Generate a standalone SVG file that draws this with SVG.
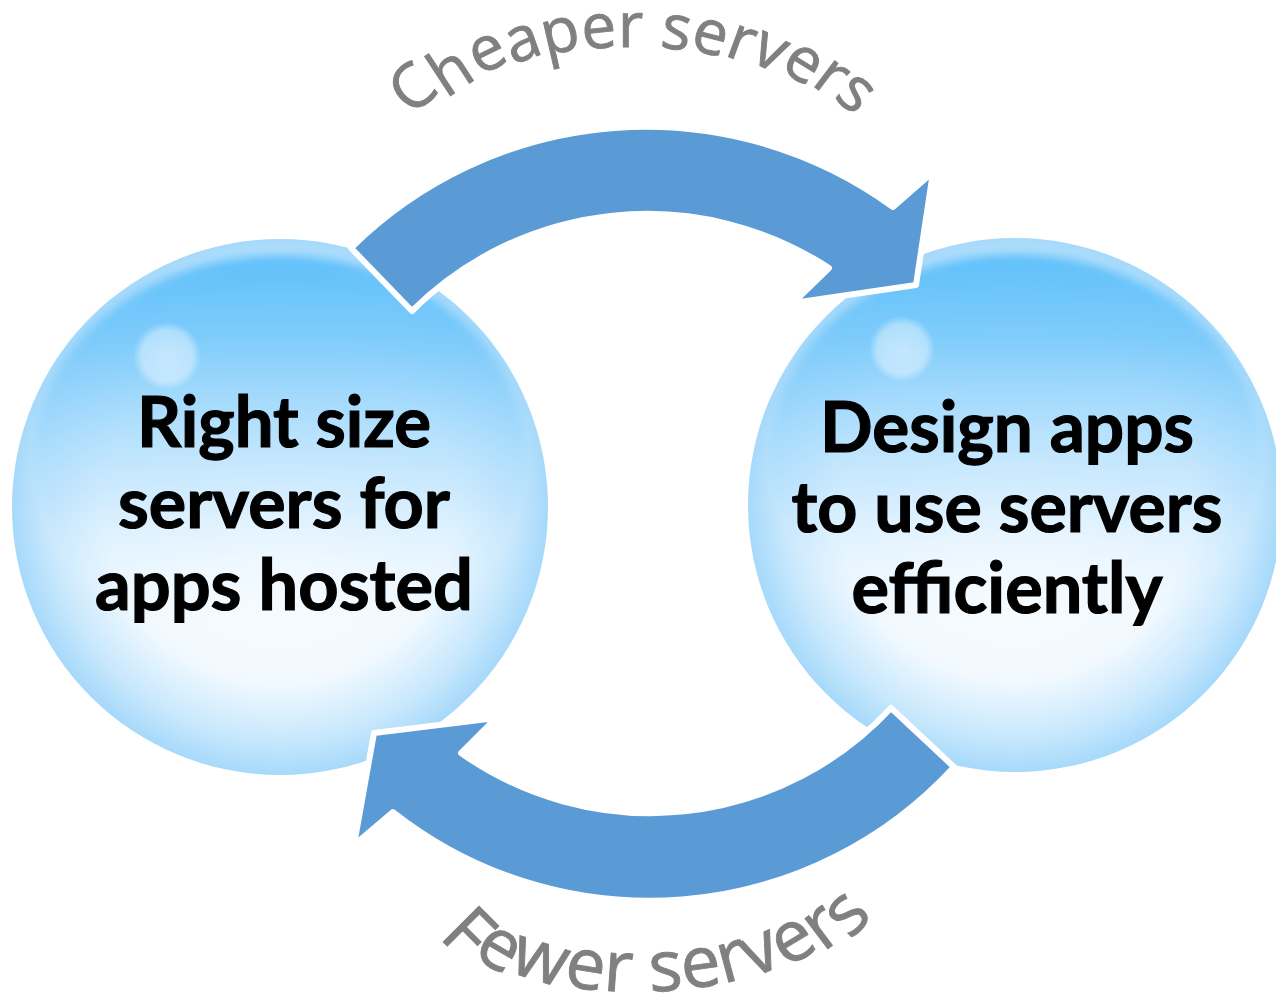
<svg xmlns="http://www.w3.org/2000/svg" width="1276" height="997" viewBox="0 0 1276 997">
  <style>
    .bubble-text { font-family: Lato, "Liberation Sans", sans-serif; font-weight: 700; font-size: 70px; fill: #000000; stroke: #000000; stroke-width: 1.2px; text-anchor: middle; }
    .arc-label { font-family: "Open Sans", "Liberation Sans", sans-serif; fill: #808080; stroke: #808080; stroke-width: 0.9px; }
    .arrow { fill: #5b9bd5; stroke: #ffffff; stroke-width: 6; stroke-linejoin: round; }
  </style>
  <defs>
    <radialGradient id="sphBase" cx="0.5" cy="0.5" r="0.5">
      <stop offset="0" stop-color="#ffffff"/>
      <stop offset="0.66" stop-color="#f1f9ff"/>
      <stop offset="0.87" stop-color="#c8e8fd"/>
      <stop offset="1" stop-color="#a6d9fa"/>
    </radialGradient>
    <linearGradient id="lens" x1="0" y1="0" x2="0" y2="1">
      <stop offset="0" stop-color="#5fc0fa" stop-opacity="1"/>
      <stop offset="0.22" stop-color="#78c9fb" stop-opacity="0.92"/>
      <stop offset="0.6" stop-color="#b2dffd" stop-opacity="0.55"/>
      <stop offset="1" stop-color="#ffffff" stop-opacity="0"/>
    </linearGradient>
    <radialGradient id="glint" cx="0.5" cy="0.5" r="0.5">
      <stop offset="0" stop-color="#ffffff" stop-opacity="0.5"/>
      <stop offset="0.75" stop-color="#ffffff" stop-opacity="0.4"/>
      <stop offset="1" stop-color="#ffffff" stop-opacity="0"/>
    </radialGradient>
    <filter id="soft" x="-10%" y="-10%" width="120%" height="120%">
      <feGaussianBlur stdDeviation="5"/>
    </filter>
  </defs>
  <rect width="1276" height="997" fill="#ffffff"/>

  <g id="node-right-size">
    <circle cx="280" cy="507" r="268" fill="url(#sphBase)"/>
    <ellipse cx="280" cy="455" rx="246" ry="200" fill="url(#lens)" filter="url(#soft)"/>
    <circle cx="167" cy="356" r="34" fill="url(#glint)"/>
    <text class="bubble-text" x="284" y="447" textLength="294" lengthAdjust="spacingAndGlyphs">Right size</text>
    <text class="bubble-text" x="284" y="528" textLength="332" lengthAdjust="spacingAndGlyphs">servers for</text>
    <text class="bubble-text" x="284" y="610" textLength="378" lengthAdjust="spacingAndGlyphs">apps hosted</text>
  </g>

  <g id="node-design-apps">
    <circle cx="1015" cy="505" r="267" fill="url(#sphBase)"/>
    <ellipse cx="1015" cy="453" rx="245" ry="199" fill="url(#lens)" filter="url(#soft)"/>
    <circle cx="902" cy="349" r="33" fill="url(#glint)"/>
    <text class="bubble-text" x="1007" y="452" textLength="374" lengthAdjust="spacingAndGlyphs">Design apps</text>
    <text class="bubble-text" x="1007" y="532" textLength="431" lengthAdjust="spacingAndGlyphs">to use servers</text>
    <text class="bubble-text" x="1007" y="613" textLength="311" lengthAdjust="spacingAndGlyphs">efficiently</text>
  </g>

  <g id="connectors">
    <path id="arrow-top" class="arrow" d="M 351,248 A 420 420 0 0 1 893,207 L 933,172 L 916,285 L 793,303 L 829,268 A 333 333 0 0 0 412,311 Z"/>
    <path id="arrow-bottom" class="arrow" d="M 954,767 A 414 414 0 0 1 393,812 L 354,845 L 374,733 L 496,718 L 461,753 A 328 328 0 0 0 891,708 Z"/>
    <text id="label-cheaper" class="arc-label" font-size="62"
      x="411.2 446.0 479.6 512.5 545.8 583.2 617.9 643.6 659.3 689.1 723.4 748.6 779.1 810.6 832.8"
      y="116.7 98.7 76.0 64.7 56.1 49.8 47.0 47.1 46.9 48.9 55.1 60.3 69.2 83.9 97.0"
      rotate="-40.6 -33.3 -26.3 -19.8 -12.9 -5.9 -0.1 4 8.3 14.5 20.2 25.5 31.6 37 41">Cheaper servers</text>
    <text id="label-fewer" class="arc-label" font-size="71"
      x="438.2 471.6 508.0 562.8 602.4 631.3 649.8 683.7 723.0 751.8 786.3 822.9 850.2"
      y="937.0 956.2 971.7 985.6 990.6 992.0 991.8 989.5 983.8 978.2 968.6 952.4 940.4"
      rotate="45 30 17 9 4 0 -3 -8 -15 -23 -31 -37 -46">Fewer servers</text>
  </g>
</svg>
